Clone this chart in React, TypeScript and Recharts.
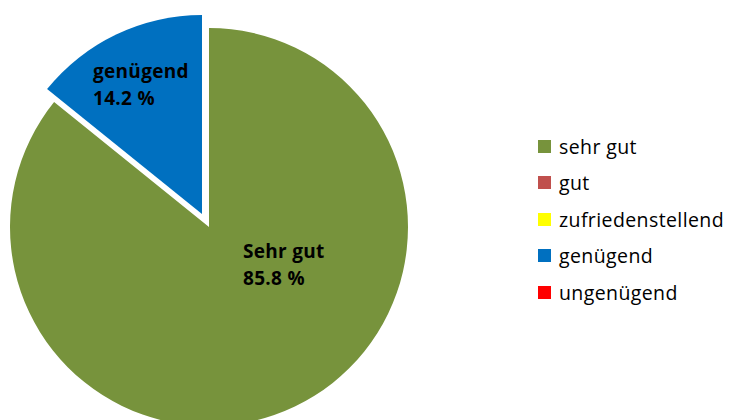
import { PieChart, Pie, Cell, Legend } from "recharts"

const categories = ["sehr gut", "gut", "zufriedenstellend", "genügend", "ungenügend"]
const shares = [85.8, 0, 0, 14.2, 0]
const colors = ["#77933C", "#C0504D", "#FFFF00", "#0070C0", "#FF0000"]
const sliceLabels = ["Sehr gut", "", "", "genügend", ""]

// the blue slice is pulled out of the pie like in the Excel original
const explodedIndex = 3

const data = categories.map((name, i) => ({ name, value: shares[i] }))

const labelOffsets: Record<number, { dx: number; dy: number }> = {
  0: { dx: 34, dy: 31 },
  3: { dx: -109, dy: -136 },
}

const font = "'Open Sans', Lato, sans-serif"

const renderLabel = (only: number) => (props: any) => {
  const { index, cx, cy } = props
  if (index !== only || !sliceLabels[index]) return null
  const off = labelOffsets[index]
  const x = cx + off.dx
  const y = cy + off.dy
  return (
    <text x={x} y={y} fill="#000" fontFamily={font} fontWeight={700} fontSize={19} letterSpacing={0.3}>
      <tspan x={x} dy={0}>{sliceLabels[index]}</tspan>
      <tspan x={x} dy={27}>{shares[index].toFixed(1)} %</tspan>
    </text>
  )
}

const renderLegend = () => (
  <ul style={{ listStyle: "none", margin: 0, padding: 0, fontFamily: font, fontSize: 19.5, letterSpacing: 0.4, color: "#000" }}>
    {categories.map((name, i) => (
      <li key={name} style={{ display: "flex", alignItems: "center", height: 36.5 }}>
        <span style={{ display: "inline-block", width: 13, height: 13, background: colors[i], marginRight: 8 }} />
        {name}
      </li>
    ))}
  </ul>
)

export default function App() {
  return (
    <div style={{ position: "absolute", left: 0, top: 0, width: 729, height: 420, background: "#fff" }}>
      <PieChart width={729} height={420} margin={{ top: 0, right: 0, bottom: 0, left: 0 }}>
        <Pie
          data={data}
          dataKey="value"
          nameKey="name"
          cx={209}
          cy={227}
          outerRadius={199}
          startAngle={90}
          endAngle={-270}
          stroke="none"
          isAnimationActive={false}
          labelLine={false}
          label={renderLabel(0)}
          legendType="none"
        >
          {data.map((d, i) => (
            <Cell key={d.name} fill={i === explodedIndex ? "transparent" : colors[i]} />
          ))}
        </Pie>
        <Pie
          data={data}
          dataKey="value"
          nameKey="name"
          cx={202}
          cy={214}
          outerRadius={199}
          startAngle={90}
          endAngle={-270}
          stroke="none"
          isAnimationActive={false}
          labelLine={false}
          label={renderLabel(explodedIndex)}
          legendType="none"
        >
          {data.map((d, i) => (
            <Cell key={d.name} fill={i === explodedIndex ? colors[i] : "transparent"} />
          ))}
        </Pie>
        <Legend
          layout="vertical"
          content={renderLegend}
          wrapperStyle={{ left: 538, top: 128, width: 191 }}
        />
      </PieChart>
    </div>
  )
}
